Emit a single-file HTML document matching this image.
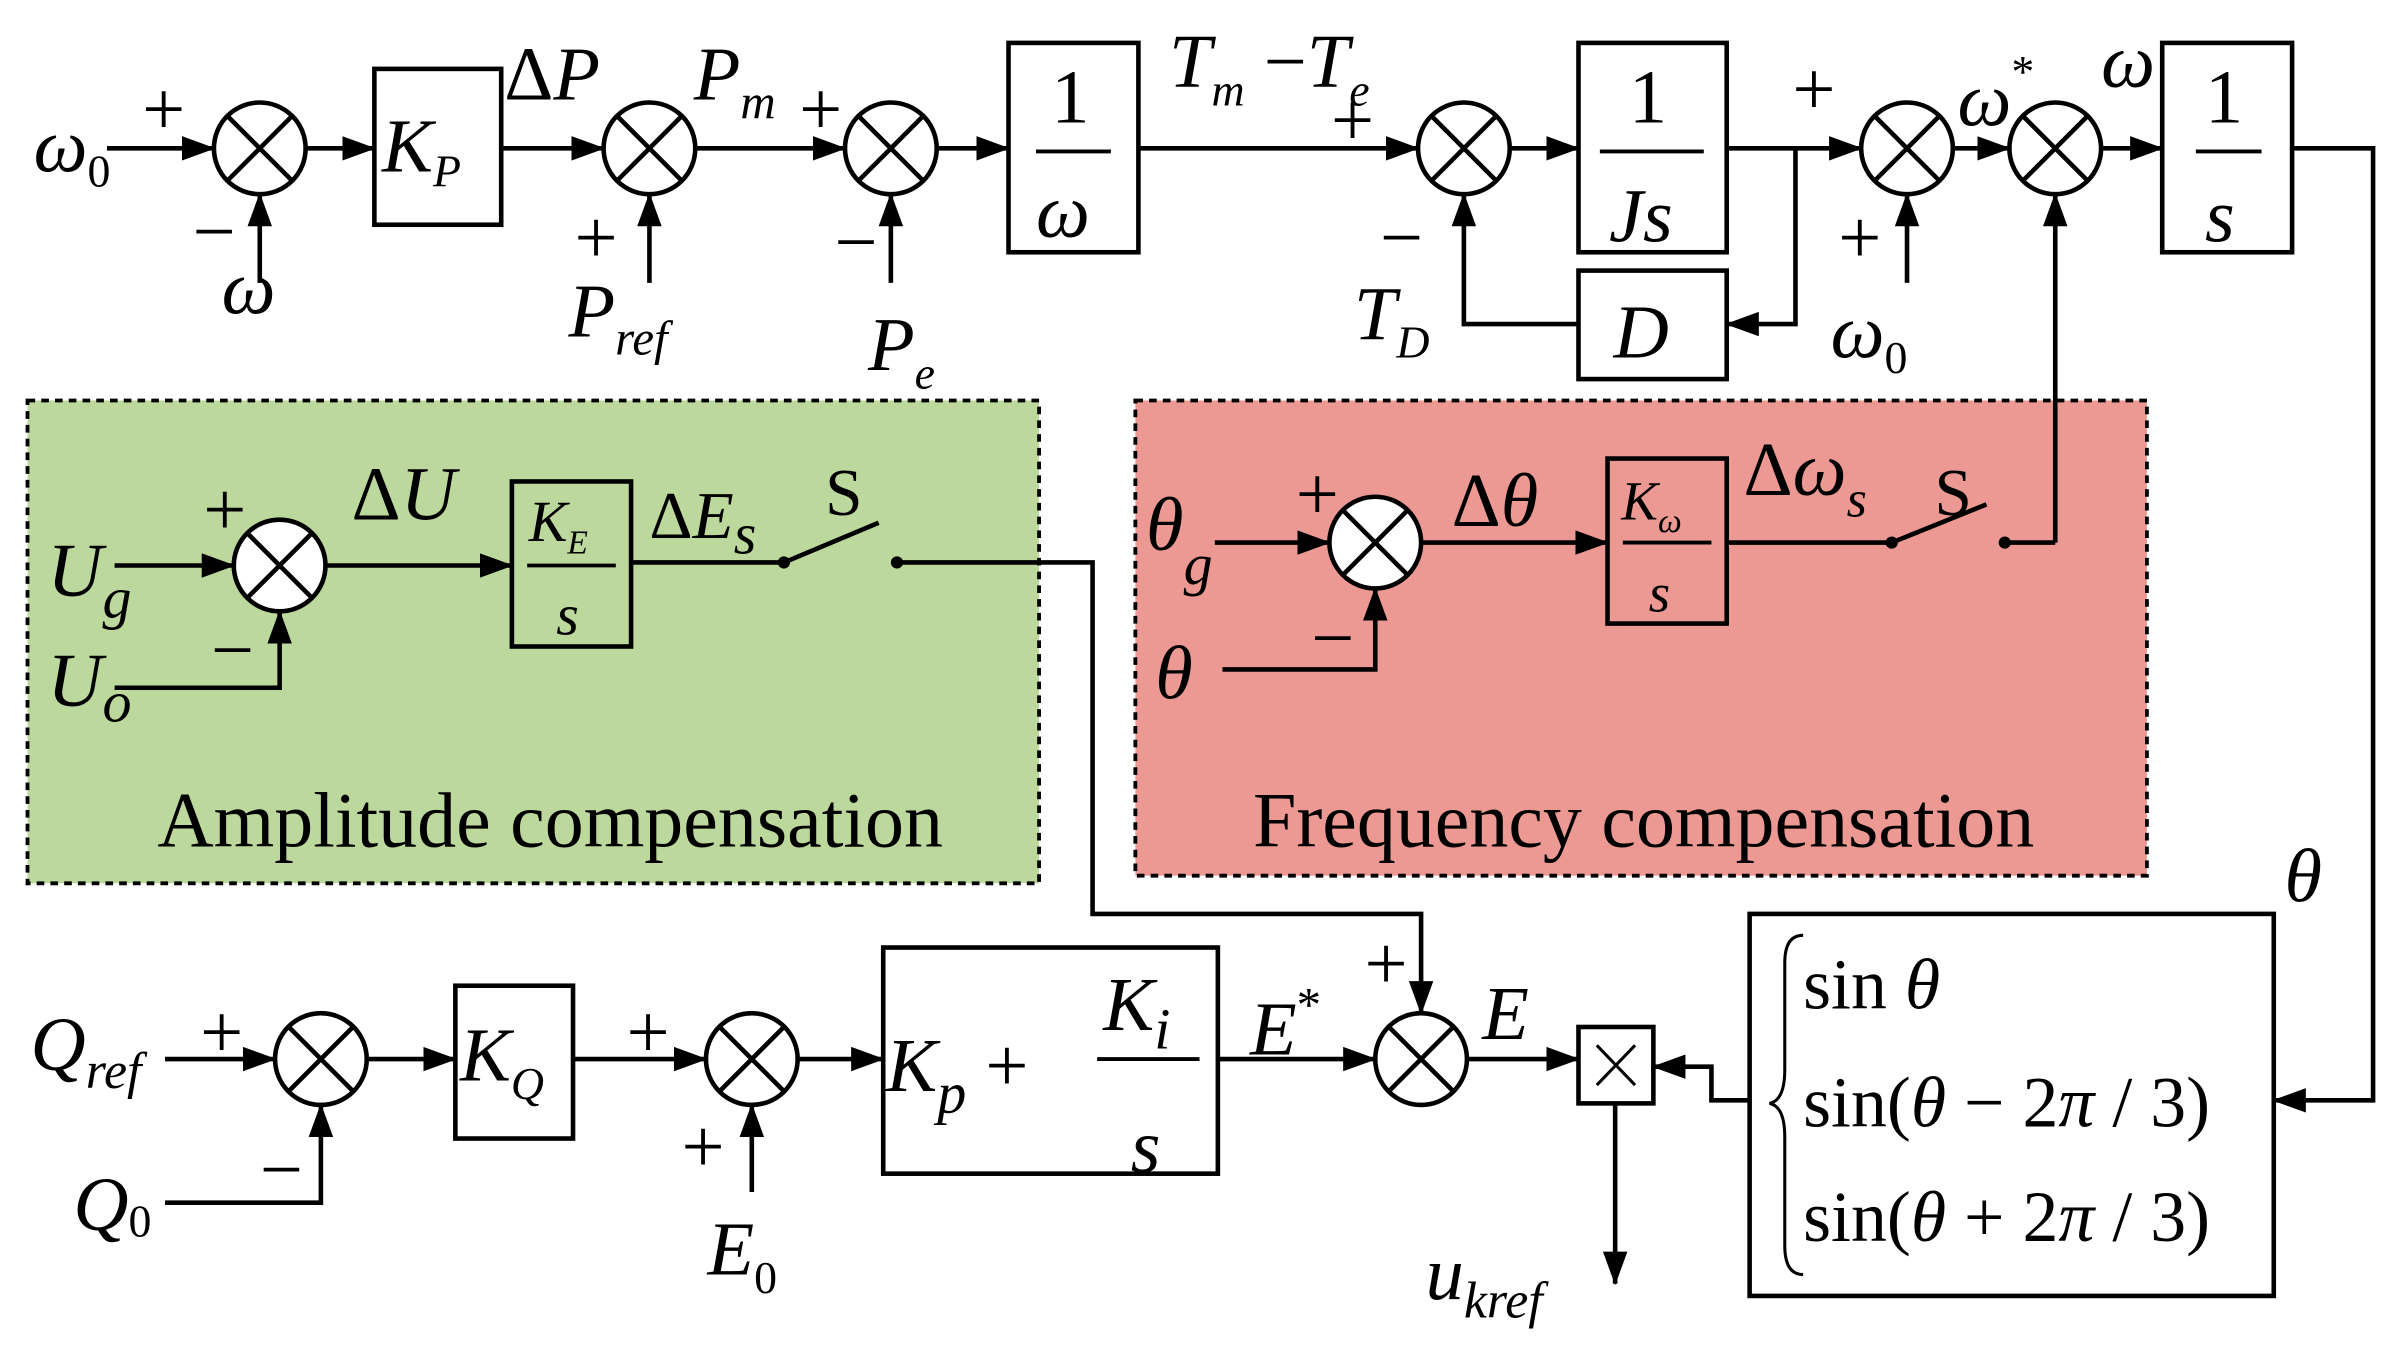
<!DOCTYPE html>
<html><head><meta charset="utf-8"><style>
html,body{margin:0;padding:0;background:#fff}
svg{display:block}
text{font-family:"Liberation Serif",serif;fill:#000}
.i{font-style:italic}
.p{font-size:50px}
</style></head><body>
<svg width="2396" height="1348" viewBox="0 0 1568 882" xmlns="http://www.w3.org/2000/svg">
<defs>
<marker id="b" markerWidth="22" markerHeight="16" refX="21" refY="8" orient="auto" markerUnits="userSpaceOnUse" viewBox="0 0 22 16">
<path d="M0,0 L22,8 L0,16 z" fill="#000"/></marker>
<g id="sum"><circle r="30" fill="#fff" stroke="#000" stroke-width="3"/><path d="M-21,-21 L21,21 M-21,21 L21,-21" stroke="#000" stroke-width="3"/></g>
</defs>
<rect x="18" y="262" width="662" height="316" fill="#bcd89c" stroke="#000" stroke-width="2.5" stroke-dasharray="5,4"/>
<rect x="743" y="262" width="662" height="311" fill="#eb9992" stroke="#000" stroke-width="2.5" stroke-dasharray="5,4"/>
<g stroke="#000" stroke-width="3" fill="none">
<path d="M70,97 H140" marker-end="url(#b)"/>
<path d="M170,185 V127" marker-end="url(#b)"/>
<path d="M200,97 H245" marker-end="url(#b)"/>
<rect x="245" y="45" width="83" height="102"/>
<path d="M328,97 H395" marker-end="url(#b)"/>
<path d="M425,185 V127" marker-end="url(#b)"/>
<path d="M455,97 H553" marker-end="url(#b)"/>
<path d="M583,185 V127" marker-end="url(#b)"/>
<path d="M613,97 H660" marker-end="url(#b)"/>
<rect x="660" y="28" width="85" height="137"/>
<path d="M745,97 H928" marker-end="url(#b)"/>
<path d="M988,97 H1033" marker-end="url(#b)"/>
<rect x="1033" y="28" width="97" height="137"/>
<path d="M1130,97 H1218" marker-end="url(#b)"/>
<path d="M1175,97 V212 H1130" marker-end="url(#b)"/>
<rect x="1033" y="177" width="97" height="71"/>
<path d="M1033,212 H958 V127" marker-end="url(#b)"/>
<path d="M1248,185 V127" marker-end="url(#b)"/>
<path d="M1278,97 H1315" marker-end="url(#b)"/>
<path d="M1345,355 V127" marker-end="url(#b)"/>
<path d="M1375,97 H1415" marker-end="url(#b)"/>
<rect x="1415" y="28" width="85" height="137"/>
<path d="M1500,97 H1553 V720 H1488" marker-end="url(#b)"/>
<path d="M75,370 H153" marker-end="url(#b)"/>
<path d="M75,450 H183 V400" marker-end="url(#b)"/>
<path d="M213,370 H335" marker-end="url(#b)"/>
<rect x="335" y="315" width="78" height="108"/>
<path d="M413,368 H513"/>
<path d="M513,368 L575,342"/>
<path d="M587,368 H715 V598 H930 V663" marker-end="url(#b)"/>
<path d="M795,355 H870" marker-end="url(#b)"/>
<path d="M800,438 H900 V385" marker-end="url(#b)"/>
<path d="M930,355 H1052" marker-end="url(#b)"/>
<rect x="1052" y="300" width="78" height="108"/>
<path d="M1130,355 H1238 L1300,330"/>
<path d="M1312,355 H1345"/>
<path d="M108,693 H180" marker-end="url(#b)"/>
<path d="M108,787 H210 V723" marker-end="url(#b)"/>
<path d="M240,693 H298" marker-end="url(#b)"/>
<rect x="298" y="645" width="77" height="100"/>
<path d="M375,693 H462" marker-end="url(#b)"/>
<path d="M492,780 V723" marker-end="url(#b)"/>
<path d="M522,693 H578" marker-end="url(#b)"/>
<rect x="578" y="620" width="219" height="148"/>
<path d="M797,693 H900" marker-end="url(#b)"/>
<path d="M960,693 H1033" marker-end="url(#b)"/>
<rect x="1033" y="672" width="49" height="50"/>
<path d="M1045,684 L1070,710 M1045,710 L1070,684" stroke-width="2"/>
<path d="M1057,722 V840" marker-end="url(#b)"/>
<path d="M1145,720 H1120 V698 H1082" marker-end="url(#b)"/>
<rect x="1145" y="598" width="343" height="250"/>
<path d="M1180,612 Q1168,612 1168,630 V700 Q1168,720 1158,722 Q1168,724 1168,744 V815 Q1168,834 1180,834" stroke-width="2"/>
<path d="M678,99 H727 M1047,99 H1115 M1437,99 H1480 M345,370 H403 M1062,355 H1120 M718,693 H785" stroke-width="2.5"/>
</g>
<g fill="#000"><circle cx="513" cy="368" r="4"/><circle cx="587" cy="368" r="4"/><circle cx="1238" cy="355" r="4"/><circle cx="1312" cy="355" r="4"/></g>
<use href="#sum" x="170" y="97"/><use href="#sum" x="425" y="97"/><use href="#sum" x="583" y="97"/>
<use href="#sum" x="958" y="97"/><use href="#sum" x="1248" y="97"/><use href="#sum" x="1345" y="97"/>
<use href="#sum" x="183" y="370"/><use href="#sum" x="900" y="355"/>
<use href="#sum" x="210" y="693"/><use href="#sum" x="492" y="693"/><use href="#sum" x="930" y="693"/>
<g font-size="50">
<text x="22" y="112" class="i">ω<tspan font-size="30" dy="10" font-style="normal">0</tspan></text>
<text x="93" y="88" class="p">+</text><text x="126" y="168" class="p">−</text>
<text x="145" y="205" class="i">ω</text>
<text x="250" y="112" class="i">K<tspan font-size="30" dy="10">P</tspan></text>
<text x="330" y="65">Δ<tspan class="i">P</tspan></text>
<text x="454" y="65" class="i">P<tspan font-size="32" dy="12">m</tspan></text>
<text x="376" y="172" class="p">+</text>
<text x="372" y="220" class="i">P<tspan font-size="32" dy="12">ref</tspan></text>
<text x="523" y="88" class="p">+</text><text x="546" y="175" class="p">−</text>
<text x="568" y="242" class="i">P<tspan font-size="30" dy="12">e</tspan></text>
<text x="688" y="80" font-size="50">1</text><text x="678" y="155" class="i">ω</text>
<text x="765" y="57" class="i">T<tspan font-size="30" dy="12">m</tspan><tspan dy="-12" font-style="normal"> −</tspan>T<tspan font-size="30" dy="12">e</tspan></text>
<text x="871" y="95" class="p">+</text><text x="903" y="172" class="p">−</text>
<text x="886" y="222" class="i">T<tspan font-size="30" dy="12">D</tspan></text>
<text x="1066" y="80" font-size="50">1</text><text x="1053" y="158" class="i">Js</text>
<text x="1056" y="234" class="i">D</text>
<text x="1173" y="75" class="p">+</text><text x="1203" y="172" class="p">+</text>
<text x="1198" y="234" class="i">ω<tspan font-size="30" dy="10" font-style="normal">0</tspan></text>
<text x="1281" y="82" class="i">ω<tspan font-size="30" dy="-25" font-style="normal">*</tspan></text>
<text x="1375" y="57" class="i">ω</text>
<text x="1443" y="80" font-size="50">1</text><text x="1443" y="158" class="i">s</text>
<text x="1495" y="590" class="i">θ</text>
<text x="31" y="390" class="i">U<tspan font-size="38" dy="14">g</tspan></text>
<text x="31" y="462" class="i">U<tspan font-size="38" dy="10">o</tspan></text>
<text x="133" y="350" class="p">+</text><text x="138" y="442" class="p">−</text>
<text x="230" y="340">Δ<tspan class="i">U</tspan></text>
<text x="346" y="354" class="i" font-size="38">K<tspan font-size="22" dy="8">E</tspan></text>
<text x="364" y="415" class="i" font-size="38">s</text>
<text x="425" y="352" font-size="44">Δ<tspan class="i">E<tspan font-size="38" dy="10">s</tspan></tspan></text>
<text x="540" y="337" font-family="Liberation Sans" font-size="44">S</text>
<text x="103" y="554" font-size="51">Amplitude compensation</text>
<text x="750" y="360" class="i">θ<tspan font-size="38" dy="22">g</tspan></text>
<text x="756" y="457" class="i">θ</text>
<text x="848" y="340" class="p">+</text><text x="858" y="434" class="p">−</text>
<text x="950" y="344">Δ<tspan class="i">θ</tspan></text>
<text x="1061" y="340" class="i" font-size="36">K<tspan font-size="22" dy="8">ω</tspan></text>
<text x="1079" y="400" class="i" font-size="36">s</text>
<text x="1141" y="324">Δ<tspan class="i">ω<tspan font-size="34" dy="14">s</tspan></tspan></text>
<text x="1266" y="337" font-family="Liberation Sans" font-size="44">S</text>
<text x="820" y="554" font-size="51">Frequency compensation</text>
<text x="20" y="700" class="i">Q<tspan font-size="34" dy="12">ref</tspan></text>
<text x="131" y="692" class="p">+</text><text x="170" y="782" class="p">−</text>
<text x="48" y="805" class="i">Q<tspan font-size="30" dy="4" font-style="normal">0</tspan></text>
<text x="301" y="707" class="i">K<tspan font-size="30" dy="12">Q</tspan></text>
<text x="410" y="692" class="p">+</text><text x="446" y="767" class="p">+</text>
<text x="463" y="834" class="i">E<tspan font-size="30" dy="12" font-style="normal">0</tspan></text>
<text x="580" y="714" class="i">K<tspan font-size="38" dy="14">p</tspan><tspan dy="-14" font-style="normal"> +</tspan></text>
<text x="722" y="674" class="i">K<tspan font-size="38" dy="12">i</tspan></text>
<text x="740" y="767" class="i">s</text>
<text x="818" y="690" class="i">E<tspan font-size="32" dy="-22" font-style="normal">*</tspan></text>
<text x="893" y="647" class="p">+</text>
<text x="970" y="680" class="i">E</text>
<text x="933" y="850" class="i">u<tspan font-size="34" dy="12">kref</tspan></text>
<text x="1180" y="660" font-size="47">sin <tspan class="i">θ</tspan></text>
<text x="1180" y="737" font-size="47">sin<tspan>(</tspan><tspan class="i">θ</tspan> − 2<tspan class="i">π</tspan> / 3)</text>
<text x="1180" y="812" font-size="47">sin<tspan>(</tspan><tspan class="i">θ</tspan> + 2<tspan class="i">π</tspan> / 3)</text>
</g>
</svg>
</body></html>
